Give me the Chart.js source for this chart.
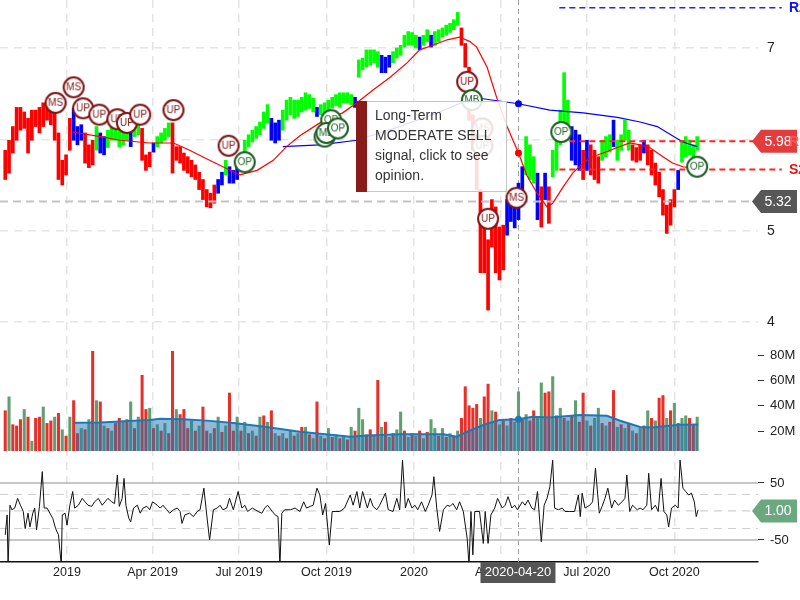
<!DOCTYPE html>
<html><head><meta charset="utf-8">
<script src="https://cdn.jsdelivr.net/npm/chart.js@4.4.0/dist/chart.umd.min.js"></script>
<style>html,body{margin:0;padding:0;background:#fff;}canvas{display:block;}</style>
</head><body>
<canvas id="c" width="800" height="600"></canvas>
<script>
// ---------- DATA (days counted from 2019-01-01) ----------
const SAMPLE_START = -65, SAMPLE_STEP = 4;
const priceHigh = [
5.88,5.99,6.14,6.35,6.35,6.30,6.23,6.32,6.32,6.35,
6.40,6.38,6.40,6.29,6.07,5.77,5.83,6.23,6.34,6.14,
6.16,6.07,5.94,5.99,6.14,6.07,6.03,6.10,6.16,6.14,
6.10,6.14,6.16,6.08,6.16,6.21,6.12,5.83,5.86,5.96,
6.03,6.07,6.12,6.18,6.18,5.92,5.92,5.85,5.81,5.77,
5.72,5.64,5.56,5.45,5.41,5.50,5.56,5.64,5.77,5.70,
5.66,5.70,5.83,5.99,6.05,6.10,6.14,6.19,6.30,6.38,
6.23,6.18,6.21,6.32,6.43,6.46,6.43,6.43,6.46,6.51,
6.49,6.45,6.35,6.38,6.40,6.43,6.46,6.49,6.51,6.51,
6.51,6.49,6.46,6.87,6.89,6.98,6.98,6.98,6.96,6.92,
6.90,6.92,6.96,7.00,7.03,7.14,7.18,7.17,7.14,7.12,
7.14,7.20,7.14,7.18,7.20,7.22,7.25,7.27,7.31,7.39,
7.22,7.05,6.79,6.27,5.88,5.45,5.04,4.90,5.34,5.26,
5.04,5.06,5.34,5.37,5.36,5.52,5.70,6.03,5.94,5.81,
5.63,5.48,5.63,5.48,5.88,5.99,6.32,6.73,6.43,6.14,
6.10,6.05,5.88,5.99,5.94,5.88,5.81,5.99,6.03,6.05,
6.21,5.99,6.05,6.21,6.10,5.94,5.91,5.94,5.99,5.94,
5.88,5.74,5.64,5.45,5.28,5.34,5.45,5.66,5.99,6.03,
5.99,5.94,6.03];
const priceLow = [
5.56,5.63,5.85,5.99,6.10,6.12,5.85,5.99,6.14,6.07,
6.14,6.21,6.16,5.99,5.56,5.50,5.61,5.88,5.99,5.94,
5.99,5.74,5.69,5.72,5.88,5.85,5.83,5.91,5.99,5.99,
5.92,5.94,5.99,5.92,6.03,6.05,5.77,5.66,5.70,5.86,
5.92,5.96,5.99,6.03,5.63,5.77,5.74,5.66,5.63,5.59,
5.56,5.45,5.34,5.26,5.25,5.30,5.41,5.50,5.61,5.52,
5.52,5.56,5.66,5.83,5.92,5.97,6.01,6.05,6.12,6.18,
5.99,5.96,5.99,6.10,6.21,6.27,6.23,6.25,6.30,6.32,
6.34,6.30,6.25,6.27,6.29,6.32,6.34,6.37,6.35,6.40,
6.40,6.38,6.35,6.68,6.76,6.79,6.81,6.84,6.79,6.73,
6.73,6.79,6.84,6.89,6.92,7.01,7.03,7.03,7.00,6.98,
7.03,7.07,7.01,7.03,7.07,7.12,7.14,7.17,7.20,7.25,
7.03,6.79,6.21,5.88,5.45,4.54,4.54,4.13,4.82,4.54,
4.46,4.57,4.95,5.10,5.03,5.12,5.34,5.61,5.56,5.52,
5.12,5.04,5.34,5.08,5.59,5.66,5.94,6.16,5.99,5.77,
5.72,5.66,5.56,5.66,5.61,5.56,5.52,5.77,5.81,5.86,
5.92,5.77,5.88,5.99,5.88,5.77,5.75,5.77,5.85,5.72,
5.61,5.50,5.37,5.17,4.97,5.06,5.26,5.45,5.75,5.81,
5.83,5.81,5.88];
// r = bearish, g = bullish, b = neutral
const trend =
"rrrrrrrrrr"+"rrrrrrrrbb"+"brrrgbbggg"+"gggbggrrrb"+"ggggrrrrrr"+
"rrrrrrbbgb"+"bbgggggggg"+"bbbggggggg"+"ggbggggggg"+"ggbggggggb"+
"bbgggggggb"+"ggbggggggg"+"rrrrrrrrrr"+"rrbbbbbggg"+"brbrgggggb"+
"bbrbrrrggg"+"bggggrrrbr"+"rrrrrrrbgg"+"ggg";
const volume = [
36,47,25,24,29,37,31,12,30,31,
39,26,28,31,34,21,16,31,44,18,
22,21,29,83,44,43,24,22,20,26,
30,28,29,43,22,31,64,37,38,22,
25,20,26,18,83,37,33,37,22,28,
20,24,39,20,18,22,31,19,24,50,
20,31,20,27,18,20,16,31,32,27,
36,18,16,18,14,20,16,18,23,23,
17,14,43,16,14,22,15,17,14,16,
13,23,20,38,29,17,21,16,60,23,
27,15,18,21,35,20,15,18,16,20,
14,19,29,22,16,22,15,18,16,20,
30,55,40,38,41,30,47,57,36,35,
25,28,24,30,27,51,30,33,28,36,
30,58,50,51,63,32,38,30,28,32,
44,27,50,28,24,30,38,26,24,27,
52,23,25,22,26,20,18,22,24,36,
30,28,46,48,30,36,42,26,30,32,
30,25,31];
const volDir =
"rgrrrgrgrr"+"grrgrgrgrr"+"grgrgrgrgr"+"rgrgrgrrgr"+"grgrrgrrrg"+
"rgrrgrgrgr"+"rgrgrgrgrg"+"rgrgrgrgrg"+"rgrgrgrgrg"+"rgrggrrgrg"+
"rgrggrgrgr"+"grggrgrgrg"+"rrrrrgrrgr"+"grgrggrgrr"+"ggrrgrgrgr"+
"grrgrggrgr"+"rgrgrgrgrg"+"rgrrgrgrgg"+"rrg";
const maShortDays = [6,35,56,87,112,129,150,164,182,200,217,231,245,266,290,305,322,340,358,371,385,400,413,424,431,442,452,463,475,484,494,505,511,522,532,543,553,564,579,592,603,613,627,637,648,655,663];
const maShortVals = [6.08,6.03,5.99,5.96,5.96,5.88,5.77,5.70,5.61,5.66,5.77,5.92,6.04,6.18,6.29,6.40,6.54,6.68,6.84,6.98,7.03,7.09,7.12,7.07,7.01,6.79,6.46,6.14,5.85,5.60,5.42,5.26,5.30,5.48,5.63,5.74,5.81,5.85,5.91,5.96,5.94,5.91,5.81,5.74,5.70,5.69,5.69];
const maLongDays = [227,266,305,350,392,424,434,475,508,543,579,603,621,637,648,663];
const maLongVals = [5.92,5.94,5.99,6.14,6.30,6.44,6.45,6.39,6.32,6.29,6.24,6.19,6.14,6.04,5.97,5.92];
const volMaDays = [8,35,87,98,122,147,175,210,245,280,298,316,350,396,410,421,438,455,475,490,508,540,568,582,603,616,631,645,664];
const volMaVals = [26.6,26.8,28.7,29.7,29.2,28.2,26.3,23.2,19.4,16.8,15.5,16.5,17.4,17.5,15.5,19.4,24.7,28.7,29.3,31.3,30.6,32.6,32.0,28.1,23.2,22.7,23.9,25.0,25.2];
const oscDays = [
-65,-63,-62,-60,-58,-55,-52,-49,-46,-44,-41,-39,-36,-34,-32,-29,-26,-24,-21,-18,
-15,-12,-9,-6,-5,-2,0,3,6,8,12,16,19,22,26,29,33,37,40,43,
47,50,53,55,58,60,62,65,67,70,74,77,80,84,87,90,95,98,101,105,
108,112,116,119,121,124,129,133,137,140,144,147,150,154,158,161,164,168,171,175,
180,184,187,190,195,198,201,205,208,211,216,219,222,224,226,229,235,240,245,249,
252,256,259,263,266,269,272,276,279,282,287,292,298,301,305,308,311,316,319,322,
326,329,335,338,343,347,350,353,356,359,363,366,369,373,377,380,384,386,389,392,
396,400,403,406,410,413,417,421,423,425,427,429,434,438,440,443,446,450,453,458,
461,464,468,471,474,479,482,485,489,492,495,499,502,505,508,511,513,517,521,524,
529,534,538,540,542,545,548,550,553,556,560,563,566,569,573,576,580,584,587,589,
592,595,600,603,606,610,612,615,619,622,625,628,631,633,636,640,643,645,648,651,
654,657,660,662,664];
const oscVals = [
-41,-6,-95,11,3,6,23,11,0,-30,-3,-27,-3,6,-32,9,70,6,6,-3,
-12,-30,-41,-95,-6,-3,-24,11,35,6,11,23,17,11,9,17,23,11,17,23,
17,14,64,9,23,58,11,-12,-18,6,11,-3,6,9,3,17,11,6,11,3,
-3,3,6,0,-21,-6,-3,-9,0,3,41,-6,-50,3,6,11,3,6,23,3,
35,6,11,0,6,3,0,-3,6,11,0,-6,-9,-95,-3,3,3,6,0,17,
6,9,11,41,29,-6,14,-59,0,0,0,6,29,11,35,6,35,6,23,9,
3,11,32,3,0,23,3,90,6,23,6,11,3,17,0,11,29,61,6,-35,
3,11,9,14,3,17,0,-47,-95,0,-76,0,0,-56,0,-56,-6,6,23,6,
11,26,6,11,3,17,11,20,6,3,35,-53,11,23,43,90,6,3,6,0,
0,0,29,-9,32,6,9,11,17,76,-3,9,23,41,6,20,11,17,23,64,
0,11,3,6,3,11,67,3,11,0,58,0,-6,-27,6,11,6,90,41,35,
29,32,17,-9,3];
const sigDays   = [-12,7,17,34,53,63,77,112,170,187,271,278,273,285,421,426,437,437,443,473,520,663];
const sigPrices = [6.40,6.57,6.34,6.27,6.22,6.18,6.27,6.32,5.93,5.75,6.03,6.21,6.07,6.12,6.63,6.43,6.12,5.93,5.13,5.36,6.08,5.70];
const sigLabels = ['MS','MS','UP','UP','UP','UP','UP','UP','UP','OP','MB','OP','MB','OP','UP','MB','MS','UP','UP','MS','OP','OP'];
const levelNames  = ['R2','R1','S2'];
const levelValues = [7.44, 5.98, 5.67];
const levelFromDay = 518, levelToDay = 752;
const lastPrice = 5.32, lastOsc = 1.00;
const oscBandsSolid = [-50, 50], oscBandsDashed = [-30, 30];
const tickDays   = [0, 90, 181, 273, 365, 456, 547, 639];
const tickLabels = ['2019','Apr 2019','Jul 2019','Oct 2019','2020','Apr 2020','Jul 2020','Oct 2020'];
const priceTicks = [4, 5, 6, 7], priceTickLabels = ['4','5','','7'];
const volTicks = [20, 40, 60, 80];
const oscTicks = [-50, 50];
const crossDay = 475, crossLabel = '2020-04-20';
const signalText = ['Long-Term', 'MODERATE SELL', 'signal, click to see', 'opinion.'];

// ---------- CHART ----------
const FONT = 'Arial, "Liberation Sans", sans-serif';
Chart.defaults.font.family = FONT;
Chart.defaults.color = '#222';
const X_MIN = -70.5, X_MAX = 727;
const sampleDays = priceHigh.map((_, i) => SAMPLE_START + SAMPLE_STEP * i);
const trendColor = {r: '#ff0000', g: '#00ff00', b: '#0000ff'};
const volColor = {r: '#e8302a', g: '#5f9f72'};
const levelColor = {R2: '#2323ff', R1: '#ff2323', S2: '#ff2323'};
const levelTextColor = {R2: '#1010ee', R1: '#ee1010', S2: '#ee1010'};

function makeBadge(text, color) {
  const c = document.createElement('canvas');
  c.width = 26; c.height = 26;
  const g = c.getContext('2d');
  g.beginPath(); g.arc(13, 13, 10, 0, Math.PI * 2);
  g.fillStyle = '#fff'; g.fill();
  g.lineWidth = 2; g.strokeStyle = color; g.stroke();
  g.fillStyle = color; g.font = '10px ' + FONT;
  g.textAlign = 'center'; g.textBaseline = 'middle';
  g.fillText(text, 13, 13.5);
  return c;
}
const RED_DARK = '#7d1515', GREEN_DARK = '#1d5e22';
const badges = {
  UP: makeBadge('UP', RED_DARK), MS: makeBadge('MS', RED_DARK),
  OP: makeBadge('OP', GREEN_DARK), MB: makeBadge('MB', GREEN_DARK)
};
const crossRadius = c => (c.raw && c.raw.x === crossDay) ? 3.5 : 0;
const hline = (axis, v, x0, x1, color, width, dash, order) => ({
  type: 'line', yAxisID: axis, data: [{x: x0, y: v}, {x: x1, y: v}],
  borderColor: color, borderWidth: width, borderDash: dash, pointRadius: 0, clip: false, order
});
const noPad = s => { s.paddingLeft = 0; s.paddingRight = 0; s.paddingTop = 0; s.paddingBottom = 0; };

const datasets = [
  { type: 'bar', yAxisID: 'yP', order: 10, grouped: false, barThickness: 3, borderWidth: 0,
    data: sampleDays.map((d, i) => ({x: d, y: [priceLow[i], priceHigh[i]]})),
    backgroundColor: sampleDays.map((_, i) => trendColor[trend[i] || 'g']) },
  { type: 'line', yAxisID: 'yP', order: 6, borderColor: '#ff0000', borderWidth: 1.2,
    backgroundColor: '#ff0000', pointRadius: crossRadius, pointBorderWidth: 0,
    data: maShortDays.map((d, i) => ({x: d, y: maShortVals[i]})) },
  { type: 'line', yAxisID: 'yP', order: 6, borderColor: '#0000ff', borderWidth: 1.2,
    backgroundColor: '#0000ff', pointRadius: crossRadius, pointBorderWidth: 0,
    data: maLongDays.map((d, i) => ({x: d, y: maLongVals[i]})) },
  hline('yP', lastPrice, X_MIN, X_MAX, '#c4c4c4', 2, [8, 5], 7),
  ...levelNames.map((n, i) => hline('yP', levelValues[i], levelFromDay, levelToDay, levelColor[n], n === 'R2' ? 1.5 : 2, [6, 4], 4)),
  { type: 'bar', yAxisID: 'yV', order: 10, grouped: false, barThickness: 2.4, borderWidth: 0,
    data: sampleDays.map((d, i) => ({x: d, y: volume[i]})),
    backgroundColor: sampleDays.map((_, i) => volColor[volDir[i] || 'g']) },
  { type: 'line', yAxisID: 'yV', order: 5, borderColor: '#1f77b4', borderWidth: 2,
    backgroundColor: 'rgba(31,119,180,0.5)', fill: 'start',
    pointRadius: crossRadius, pointBackgroundColor: '#1f77b4', pointBorderWidth: 0,
    data: volMaDays.map((d, i) => ({x: d, y: volMaVals[i]})) },
  ...oscBandsSolid.map(v => hline('yO', v, X_MIN, X_MAX, '#b4b4b4', 1.5, [], 9)),
  ...oscBandsDashed.map(v => hline('yO', v, X_MIN, X_MAX, '#cccccc', 1, [8, 6], 9)),
  hline('yO', lastOsc, X_MIN, X_MAX, '#c4c4c4', 1, [8, 6], 9),
  { type: 'line', yAxisID: 'yO', order: 5, borderColor: '#111', borderWidth: 1, pointRadius: 0,
    data: oscDays.map((d, i) => ({x: d, y: oscVals[i]})) },
  { type: 'line', yAxisID: 'yP', order: 1, showLine: false,
    data: sigDays.map((d, i) => ({x: d, y: sigPrices[i]})),
    pointStyle: sigLabels.map(l => badges[l]), pointRadius: 11 }
];

function drawTag(ctx, y, text, color) {
  const x0 = 752, x1 = 797, h = 23;
  ctx.beginPath();
  ctx.moveTo(x0, y); ctx.lineTo(x0 + 9, y - h / 2); ctx.lineTo(x1, y - h / 2);
  ctx.lineTo(x1, y + h / 2); ctx.lineTo(x0 + 9, y + h / 2); ctx.closePath();
  ctx.fillStyle = color; ctx.fill();
  ctx.fillStyle = '#fff'; ctx.font = '14px ' + FONT;
  ctx.textAlign = 'center'; ctx.textBaseline = 'middle';
  ctx.fillText(text, 778, y + 0.5);
}

const overlay = {
  id: 'overlay',
  beforeDatasetsDraw(chart) {
    const {ctx, chartArea} = chart;
    const cx = chart.scales.x.getPixelForValue(crossDay);
    ctx.save();
    ctx.strokeStyle = '#a0a0a0'; ctx.lineWidth = 1; ctx.setLineDash([5, 4]);
    ctx.beginPath(); ctx.moveTo(cx, chartArea.top); ctx.lineTo(cx, chartArea.bottom); ctx.stroke();
    ctx.restore();
  },
  afterDraw(chart) {
    const {ctx} = chart;
    const yP = chart.scales.yP, yO = chart.scales.yO, xs = chart.scales.x;
    ctx.save();
    ctx.font = 'bold 14px ' + FONT; ctx.textAlign = 'left'; ctx.textBaseline = 'middle';
    levelNames.forEach((n, i) => {
      if (n === 'R1') return;
      ctx.fillStyle = levelTextColor[n];
      ctx.fillText(n, 789, yP.getPixelForValue(levelValues[i]) + 0.5);
    });
    drawTag(ctx, yP.getPixelForValue(levelValues[1]), levelValues[1].toFixed(2), '#e23c3c');
    ctx.font = 'bold 14px ' + FONT; ctx.textAlign = 'left'; ctx.textBaseline = 'middle';
    ctx.fillStyle = 'rgba(255,90,90,0.9)';
    ctx.fillText(levelNames[1], 789, yP.getPixelForValue(levelValues[1]) + 0.5);
    drawTag(ctx, yP.getPixelForValue(lastPrice), lastPrice.toFixed(2), '#575757');
    drawTag(ctx, yO.getPixelForValue(lastOsc), lastOsc.toFixed(2), '#6ba880');
    const cx = xs.getPixelForValue(crossDay);
    ctx.fillStyle = '#555';
    ctx.fillRect(cx - 38, 562, 75, 21);
    ctx.fillStyle = '#fff'; ctx.font = '13px ' + FONT;
    ctx.textAlign = 'center'; ctx.textBaseline = 'middle';
    ctx.fillText(crossLabel, cx - 0.5, 572.5);
    const bx = 356, by = 101, bw = 151, bh = 91;
    ctx.fillStyle = 'rgba(255,255,255,0.86)';
    ctx.fillRect(bx, by, bw, bh);
    ctx.strokeStyle = '#c6c6c6'; ctx.lineWidth = 1;
    ctx.strokeRect(bx + 0.5, by + 0.5, bw - 1, bh - 1);
    ctx.fillStyle = '#8a1b1b';
    ctx.fillRect(bx, by, 11, bh);
    ctx.fillStyle = '#333'; ctx.font = '14px ' + FONT;
    ctx.textAlign = 'left'; ctx.textBaseline = 'middle';
    signalText.forEach((t, i) => ctx.fillText(t, bx + 19, by + 15 + i * 20));
    ctx.restore();
  }
};

new Chart(document.getElementById('c'), {
  type: 'line',
  data: { datasets },
  options: {
    responsive: false, animation: false, events: [],
    layout: { padding: 0, autoPadding: false },
    elements: { point: { radius: 0 }, line: { tension: 0 } },
    plugins: { legend: { display: false }, tooltip: { enabled: false } },
    scales: {
      x: {
        type: 'linear', min: X_MIN, max: X_MAX, offset: false,
        grid: { color: '#e4e4e4', lineWidth: 1.5, drawTicks: false, offset: false },
        border: { display: true, color: '#111', width: 1.5, dash: [8, 6] },
        afterBuildTicks: s => { s.ticks = tickDays.map(v => ({value: v})); },
        afterFit: s => { s.height = 38; noPad(s); },
        ticks: { autoSkip: false, maxRotation: 0, padding: 3, color: '#222',
          font: { size: 12.5 }, callback: (v, i) => tickLabels[i] }
      },
      yP: {
        type: 'linear', position: 'right', stack: 'panels', stackWeight: 333,
        min: 3.879, max: 7.526,
        grid: { color: '#e6e6e6', lineWidth: 1.5, drawTicks: false },
        border: { display: false, dash: [8, 6] },
        afterBuildTicks: s => { s.ticks = priceTicks.map(v => ({value: v})); },
        afterFit: s => { s.width = 42; noPad(s); },
        ticks: { padding: 9, color: '#222', font: { size: 14 }, callback: (v, i) => priceTickLabels[i] }
      },
      yV: {
        type: 'linear', position: 'right', stack: 'panels', stackWeight: 118,
        min: 4.21, max: 97.4,
        grid: { drawOnChartArea: false, drawTicks: true, tickLength: 6, tickColor: '#333', tickWidth: 1 },
        border: { display: false },
        afterBuildTicks: s => { s.ticks = volTicks.map(v => ({value: v})); },
        afterFit: s => { s.width = 42; noPad(s); },
        ticks: { padding: 6, color: '#222', font: { size: 13 }, callback: v => v + 'M' }
      },
      yO: {
        type: 'linear', position: 'right', stack: 'panels', stackWeight: 111,
        min: -88.6, max: 106.1,
        grid: { drawOnChartArea: false, drawTicks: true, tickLength: 6, tickColor: '#333', tickWidth: 1 },
        border: { display: false },
        afterBuildTicks: s => { s.ticks = oscTicks.map(v => ({value: v})); },
        afterFit: s => { s.width = 42; noPad(s); },
        ticks: { padding: 6, color: '#222', font: { size: 13 }, callback: v => String(v) }
      }
    }
  },
  plugins: [overlay]
});
</script>
</body></html>
